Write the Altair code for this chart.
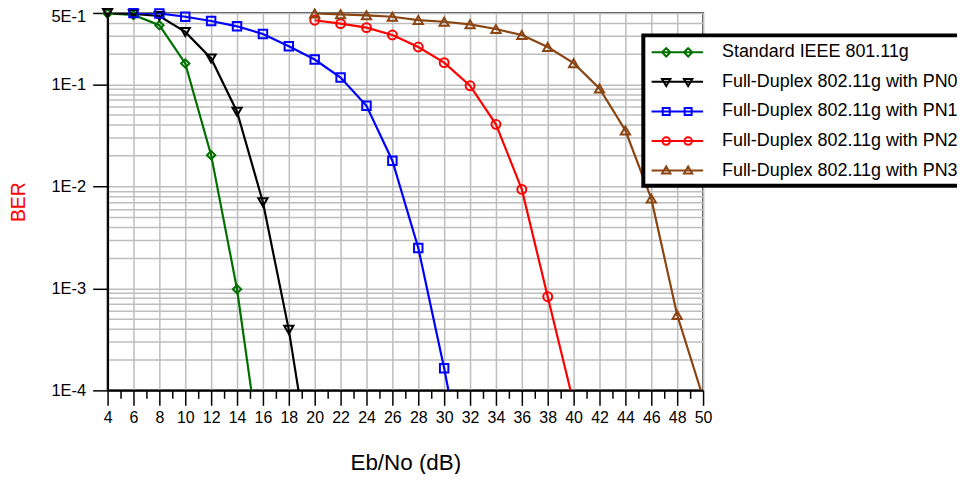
import altair as alt
import pandas as pd

# ---------------- data ----------------
series_names = [
    "Standard IEEE 801.11g",
    "Full-Duplex 802.11g with PN0",
    "Full-Duplex 802.11g with PN1",
    "Full-Duplex 802.11g with PN2",
    "Full-Duplex 802.11g with PN3",
]
series_colors = ["#007000", "#000000", "#0000FF", "#FF0000", "#8B4513"]
series_shapes = ["diamond", "triangle-down", "square", "circle", "triangle-up"]
series_sizes = [70, 85, 72, 80, 85]

std_x = [4, 6, 8, 10, 12, 14, 16]
std_ber = [0.495, 0.478, 0.379, 0.16, 0.0202, 0.00098, 1.55e-5]

pn0_x = [4, 6, 8, 10, 12, 14, 16, 18, 20]
pn0_ber = [0.5, 0.49, 0.467, 0.326, 0.179, 0.0538, 0.00697, 0.000392, 1.0e-5]

pn1_x = [6, 8, 10, 12, 14, 16, 18, 20, 22, 24, 26, 28, 30, 32]
pn1_ber = [0.5, 0.495, 0.459, 0.417, 0.370, 0.311, 0.236, 0.175, 0.1165,
           0.0616, 0.0178, 0.00249, 0.000165, 8e-6]

pn2_x = [20, 22, 24, 26, 28, 30, 32, 34, 36, 38, 40]
pn2_ber = [0.424, 0.393, 0.359, 0.304, 0.232, 0.163, 0.0967, 0.0405,
           0.00933, 0.000828, 7.5e-5]

pn3_x = [20, 22, 24, 26, 28, 30, 32, 34, 36, 38, 40, 42, 44, 46, 48, 50]
pn3_ber = [0.495, 0.485, 0.474, 0.459, 0.426, 0.410, 0.387, 0.348, 0.304,
           0.232, 0.161, 0.091, 0.0352, 0.00757, 0.000548, 8.5e-5]

x_ticks = list(range(4, 51))
y_tick_vals = [0.5, 0.1, 0.01, 0.001, 0.0001]
y_tick_labels = ["5E-1", "1E-1", "1E-2", "1E-3", "1E-4"]
y_minor = [round(k * 10.0 ** e, 10) for e in (-4, -3, -2, -1) for k in range(2, 10)
           if k * 10.0 ** e < 0.5]

x_title = "Eb/No (dB)"
y_title = "BER"

# ---------------- table ----------------
all_x = [std_x, pn0_x, pn1_x, pn2_x, pn3_x]
all_y = [std_ber, pn0_ber, pn1_ber, pn2_ber, pn3_ber]
rows = []
for name, xs, ys in zip(series_names, all_x, all_y):
    for xv, yv in zip(xs, ys):
        rows.append({"series": name, "ebno": xv, "ber": yv})
df = pd.DataFrame(rows)

FONT = "Liberation Sans, Arial, sans-serif"

# legend symbols: a line with two markers (path in symbol units)
def marker_path(kind, cx):
    r = 0.42
    if kind == "diamond":
        return f"M{cx},{-r}L{cx + r},0L{cx},{r}L{cx - r},0Z"
    if kind == "triangle-down":
        return f"M{cx - 0.42},-0.3L{cx + 0.42},-0.3L{cx},0.42Z"
    if kind == "triangle-up":
        return f"M{cx - 0.42},0.3L{cx + 0.42},0.3L{cx},-0.42Z"
    if kind == "square":
        s = 0.35
        return f"M{cx - s},{-s}H{cx + s}V{s}H{cx - s}Z"
    rr = 0.38
    return (f"M{cx - rr},0A{rr},{rr} 0 1,0 {cx + rr},0"
            f"A{rr},{rr} 0 1,0 {cx - rr},0Z")

legend_paths = ["M-0.87,0H4.3" + marker_path(k, 0.6) + marker_path(k, 2.8)
                for k in series_shapes]

x_scale = alt.Scale(domain=[4, 50], nice=False, zero=False)
y_scale = alt.Scale(type="log", domain=[0.0001, 0.5], nice=False)
color_scale = alt.Scale(domain=series_names, range=series_colors)

major_test = "indexof([" + ",".join(repr(v) for v in y_tick_vals) + "], datum.value) >= 0"
label_expr = "''"
for v, l in reversed(list(zip(y_tick_vals, y_tick_labels))):
    label_expr = f"datum.value == {v!r} ? '{l}' : ({label_expr})"

x_axis = alt.Axis(
    values=x_ticks,
    labelExpr="datum.value % 2 == 0 ? datum.label : ''",
    tickSize={"condition": {"test": "datum.value % 2 == 0", "value": 15}, "value": 8},
    gridOpacity={"condition": {"test": "datum.value % 2 == 0", "value": 1}, "value": 0},
    labelFontSize=16,
    labelPadding=4,
    labelFlush=False,
    labelOverlap=False,
    title=x_title,
    titleFontSize=22.5,
    titleColor="#000000",
    titlePadding=26,
)
y_axis = alt.Axis(
    values=y_tick_vals + y_minor,
    labelExpr=label_expr,
    tickSize={"condition": {"test": major_test, "value": 15}, "value": 0},
    labelOffset={"condition": {"test": f"datum.value == {y_tick_vals[0]!r}", "value": 4}, "value": 0},
    labelFontSize=16.5,
    labelPadding=7,
    labelOverlap=False,
    labelFlush=False,
    title=y_title,
    titleFontSize=19.5,
    titleColor="#FF0000",
    titlePadding=23,
)

base = alt.Chart(df)
X = alt.X("ebno:Q", scale=x_scale, axis=x_axis)
Y = alt.Y("ber:Q", scale=y_scale, axis=y_axis)

layers = []
for name, col in zip(series_names, series_colors):
    layers.append(
        base.transform_filter(alt.datum.series == name)
        .mark_line(strokeWidth=2.2, clip=True, color=col)
        .encode(x=X, y=Y)
    )
for name, col, shp, sz in zip(series_names, series_colors, series_shapes, series_sizes):
    layers.append(
        base.transform_filter(alt.datum.series == name)
        .transform_filter(alt.datum.ber >= 0.0001)
        .mark_point(shape=shp, filled=False, strokeWidth=2, size=sz, color=col, opacity=1)
        .encode(x=X, y=Y)
    )

leg = alt.Legend(
    title=None,
    orient="none",
    legendX=538,
    legendY=22.5,
    padding=6,
    fillColor="#FFFFFF",
    symbolSize=400,
    symbolStrokeWidth=2,
    symbolOpacity=1,
    labelFont=FONT,
    labelFontSize=18,
    labelColor="#000000",
    labelOffset=51,
    labelLimit=500,
    rowPadding=9.7,
)
legend_layer = base.transform_filter("false").mark_point(filled=False, strokeWidth=2, opacity=1).encode(
    x=X, y=Y,
    color=alt.Color("series:N", scale=color_scale, legend=leg),
    shape=alt.Shape("series:N", scale=alt.Scale(domain=series_names, range=legend_paths), legend=leg),
)
layers.append(legend_layer)

chart = (
    alt.layer(*layers)
    .properties(
        width=598,
        height=379,
        padding={"left": 100, "top": 4, "right": 255, "bottom": 83},
        autosize=alt.AutoSizeParams(type="none"),
    )
    .configure_view(stroke="#505050", strokeWidth=2)
    .configure_legend(strokeColor="#000000", strokeWidth=4)
    .configure_axis(
        labelFont=FONT,
        titleFont=FONT,
        labelColor="#000000",
        titleFontWeight="normal",
        domainColor="#000000",
        domainWidth=2,
        tickColor="#000000",
        tickWidth=1.5,
        gridColor="#BEBEBE",
        gridWidth=1.5,
    )
)

chart.save("out.html", embed_options={"renderer": "svg", "actions": False})
